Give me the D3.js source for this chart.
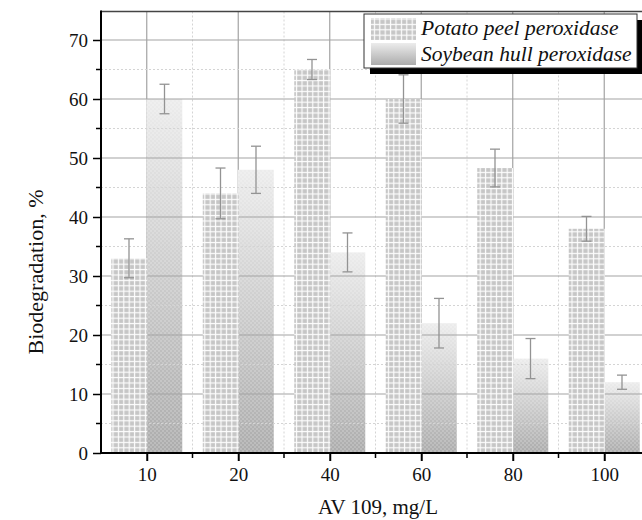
<!DOCTYPE html>
<html>
<head>
<meta charset="utf-8">
<script src="https://cdn.jsdelivr.net/npm/d3@7"></script>
<style>
  body { margin: 0; background: #fff; }
  svg { display: block; }
  text { font-family: "Liberation Serif", "Times New Roman", serif; fill: #111; }
</style>
</head>
<body>
<div id="chart"></div>
<script>
// Data
const categories = ["10", "20", "40", "60", "80", "100"];
const potatoValues = [33, 44, 65, 60, 48.3, 38];
const potatoErrors = [3.3, 4.3, 1.7, 4.1, 3.2, 2.1];
const soybeanValues = [60, 48, 34, 22, 16, 12];
const soybeanErrors = [2.5, 4, 3.3, 4.2, 3.4, 1.2];
const seriesNames = ["Potato peel peroxidase", "Soybean hull peroxidase"];
const yTicks = [0, 10, 20, 30, 40, 50, 60, 70];

// Layout
const width = 642;
const height = 520;
const plotLeft = 101, plotRight = 650, plotTop = 10.5, plotBottom = 453;
const serif = '"Liberation Serif", "Times New Roman", serif';

const svg = d3.select("#chart").append("svg")
    .attr("width", width)
    .attr("height", height);

const x = d3.scalePoint().domain(categories).range([plotLeft, plotRight]).padding(0.5);
const step = x.step();
const y = d3.scaleLinear().domain([0, 75]).range([plotBottom, plotTop]);
const barW = 35.5;

// Patterns / gradients
const defs = svg.append("defs");
const grid = defs.append("pattern")
    .attr("id", "potato")
    .attr("patternUnits", "userSpaceOnUse")
    .attr("width", 5.4).attr("height", 5.4);
grid.append("rect").attr("width", 5.4).attr("height", 5.4).attr("fill", "#fdfdfd");
grid.append("rect").attr("x", 0.2).attr("y", 0.2).attr("width", 4.2).attr("height", 4.2).attr("fill", "#c6c6c6");

const grad = defs.append("linearGradient")
    .attr("id", "soyGrad")
    .attr("x1", 0).attr("y1", 0).attr("x2", 0).attr("y2", 1);
grad.append("stop").attr("offset", "0%").attr("stop-color", "#ececec");
grad.append("stop").attr("offset", "100%").attr("stop-color", "#acacac");

const checker = defs.append("pattern")
    .attr("id", "checker")
    .attr("patternUnits", "userSpaceOnUse")
    .attr("width", 4).attr("height", 4);
checker.append("rect").attr("width", 2).attr("height", 2).attr("fill", "#fff").attr("opacity", 0.18);
checker.append("rect").attr("x", 2).attr("y", 2).attr("width", 2).attr("height", 2).attr("fill", "#fff").attr("opacity", 0.18);

// Vertical grid: solid at categories, dotted between
const minorX = categories.map(c => x(c) + step / 2);
svg.append("g").selectAll("line")
    .data(categories).join("line")
    .attr("x1", d => x(d)).attr("x2", d => x(d))
    .attr("y1", plotTop + 1).attr("y2", plotBottom)
    .attr("stroke", "#a3a3a3").attr("stroke-width", 1.2);
svg.append("g").selectAll("line")
    .data(minorX).join("line")
    .attr("x1", d => d).attr("x2", d => d)
    .attr("y1", plotTop + 1).attr("y2", plotBottom)
    .attr("stroke", "#d4d4d4").attr("stroke-dasharray", "2,2");

// Soybean bars (under horizontal grid)
const soy = svg.append("g");
soy.selectAll("rect.g")
    .data(categories).join("rect")
    .attr("class", "g")
    .attr("x", d => x(d) - 0.5)
    .attr("y", (d, i) => y(soybeanValues[i]))
    .attr("width", barW + 0.5)
    .attr("height", (d, i) => plotBottom - y(soybeanValues[i]))
    .attr("fill", "url(#soyGrad)");
soy.selectAll("rect.c")
    .data(categories).join("rect")
    .attr("class", "c")
    .attr("x", d => x(d) - 0.5)
    .attr("y", (d, i) => y(soybeanValues[i]))
    .attr("width", barW + 0.5)
    .attr("height", (d, i) => plotBottom - y(soybeanValues[i]))
    .attr("fill", "url(#checker)");

// Horizontal grid: solid at 10s, dotted at 5s
const minorY = d3.range(5, 75, 10);
svg.append("g").selectAll("line")
    .data(yTicks.slice(1)).join("line")
    .attr("x1", plotLeft).attr("x2", width)
    .attr("y1", d => y(d)).attr("y2", d => y(d))
    .attr("stroke", "#a3a3a3").attr("stroke-width", 1.2);
svg.append("g").selectAll("line")
    .data(minorY).join("line")
    .attr("x1", plotLeft).attr("x2", width)
    .attr("y1", d => y(d)).attr("y2", d => y(d))
    .attr("stroke", "#d4d4d4").attr("stroke-dasharray", "2,2");

// Potato bars
svg.append("g").selectAll("rect")
    .data(categories).join("rect")
    .attr("x", d => x(d) - barW)
    .attr("y", (d, i) => y(potatoValues[i]))
    .attr("width", barW + 0.5)
    .attr("height", (d, i) => plotBottom - y(potatoValues[i]))
    .attr("fill", "url(#potato)");

// Error bars
function errorBars(vals, errs, offset) {
  const g = svg.append("g").attr("stroke", "#939393").attr("stroke-width", 1.3);
  categories.forEach((c, i) => {
    const cx = x(c) + offset;
    const y1 = y(vals[i] + errs[i]), y2 = y(vals[i] - errs[i]);
    g.append("line").attr("x1", cx).attr("x2", cx).attr("y1", y1).attr("y2", y2);
    g.append("line").attr("x1", cx - 5).attr("x2", cx + 5).attr("y1", y1).attr("y2", y1);
    g.append("line").attr("x1", cx - 5).attr("x2", cx + 5).attr("y1", y2).attr("y2", y2);
  });
}
errorBars(potatoValues, potatoErrors, -barW / 2);
errorBars(soybeanValues, soybeanErrors, barW / 2);

// Top frame line
svg.append("line")
    .attr("x1", plotLeft).attr("x2", width)
    .attr("y1", plotTop + 1).attr("y2", plotTop + 1)
    .attr("stroke", "#444").attr("stroke-width", 1.5);

// Y axis
const yAxis = svg.append("g").attr("transform", `translate(${plotLeft},0)`)
    .call(d3.axisLeft(y).tickValues(yTicks).tickSize(8).tickPadding(5).tickFormat(d3.format("d")));
yAxis.select(".domain").remove();
yAxis.selectAll(".tick line").attr("stroke", "#000").attr("stroke-width", 1.5);
yAxis.selectAll("text")
    .style("font-family", serif).style("font-size", "19px").attr("fill", "#111");
svg.append("g").selectAll("line")
    .data(minorY).join("line")
    .attr("x1", plotLeft - 5).attr("x2", plotLeft)
    .attr("y1", d => y(d)).attr("y2", d => y(d))
    .attr("stroke", "#000").attr("stroke-width", 1.5);

// X axis
const xAxis = svg.append("g").attr("transform", `translate(0,${plotBottom})`)
    .call(d3.axisBottom(x).tickSize(8).tickPadding(7));
xAxis.select(".domain").remove();
xAxis.selectAll(".tick line").attr("stroke", "#000").attr("stroke-width", 2);
xAxis.selectAll("text")
    .style("font-family", serif).style("font-size", "19px").attr("fill", "#111");
svg.append("g").selectAll("line")
    .data(minorX).join("line")
    .attr("x1", d => d).attr("x2", d => d)
    .attr("y1", plotBottom).attr("y2", plotBottom + 5)
    .attr("stroke", "#000").attr("stroke-width", 1.5);

// Axis lines
svg.append("line").attr("x1", plotLeft).attr("x2", plotLeft).attr("y1", plotTop).attr("y2", plotBottom + 1)
    .attr("stroke", "#000").attr("stroke-width", 2);
svg.append("line").attr("x1", plotLeft - 1).attr("x2", width).attr("y1", plotBottom).attr("y2", plotBottom)
    .attr("stroke", "#000").attr("stroke-width", 2);

// Axis titles
svg.append("text")
    .attr("transform", "translate(43,272) rotate(-90)")
    .attr("text-anchor", "middle")
    .style("font-size", "22px")
    .text("Biodegradation, %");
svg.append("text")
    .attr("x", 378).attr("y", 514)
    .attr("text-anchor", "middle")
    .style("font-size", "21px")
    .text("AV 109, mg/L");

// Legend
const lg = svg.append("g").attr("transform", "translate(364,14)");
lg.append("rect").attr("x", 6).attr("y", 6).attr("width", 273).attr("height", 54).attr("fill", "#000");
lg.append("rect").attr("width", 273).attr("height", 54).attr("fill", "#fff")
    .attr("stroke", "#333").attr("stroke-width", 1);
const fills = ["url(#potato)", "url(#soyGrad)"];
seriesNames.forEach((name, i) => {
  lg.append("rect").attr("x", 7).attr("y", 4 + i * 25).attr("width", 45).attr("height", 22)
      .attr("fill", fills[i]);
  lg.append("text").attr("x", 57).attr("y", 21 + i * 26)
      .style("font-size", "21.5px").style("font-style", "italic")
      .text(name);
});
</script>
</body>
</html>
